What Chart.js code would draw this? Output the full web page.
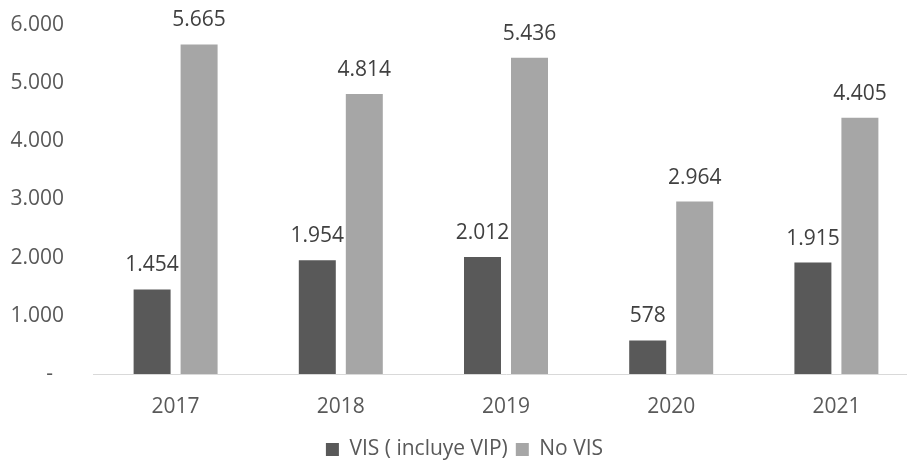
<!DOCTYPE html>
<html>
<head>
<meta charset="utf-8">
<script src="https://cdn.jsdelivr.net/npm/chart.js@4"></script>
<style>
  html, body { margin: 0; padding: 0; background: #fff; overflow: hidden; }
  #wrap { width: 907px; height: 470px; overflow: hidden; }
</style>
</head>
<body>
<!-- el área del gráfico original sobrepasa el borde derecho: lienzo algo más ancho y recortado -->
<div id="wrap"><canvas id="chart" width="920" height="470"></canvas></div>
<script>
const years = ['2017', '2018', '2019', '2020', '2021'];
const visValues = [1454, 1954, 2012, 578, 1915];
const noVisValues = [5665, 4814, 5436, 2964, 4405];
const seriesNames = ['VIS ( incluye VIP)', 'No VIS'];

// formato con punto de miles
function fmt(v) {
    return v.toString().replace(/\B(?=(\d{3})+(?!\d))/g, '.');
}

// etiquetas de valor encima de cada barra
const valueLabels = {
    id: 'valueLabels',
    afterDatasetsDraw(chart) {
        const ctx = chart.ctx;
        ctx.save();
        ctx.font = '21px "Open Sans"';
        ctx.fillStyle = '#404040';
        ctx.textAlign = 'center';
        ctx.textBaseline = 'alphabetic';
        chart.data.datasets.forEach((ds, i) => {
            chart.getDatasetMeta(i).data.forEach((bar, j) => {
                ctx.fillText(fmt(ds.data[j]), bar.x, bar.y - 18);
            });
        });
        ctx.restore();
    }
};

Chart.defaults.font.family = '"Open Sans"';
Chart.defaults.font.size = 21;
Chart.defaults.color = '#595959';

new Chart(document.getElementById('chart'), {
    type: 'bar',
    data: {
        labels: years,
        datasets: [{
            label: seriesNames[0],
            data: visValues,
            backgroundColor: '#595959',
            categoryPercentage: 0.569,
            barPercentage: 0.787
        }, {
            label: seriesNames[1],
            data: noVisValues,
            backgroundColor: '#a6a6a6',
            categoryPercentage: 0.569,
            barPercentage: 0.787
        }]
    },
    options: {
        responsive: false,
        animation: false,
        layout: {
            padding: { top: 0, right: 1, left: 10, bottom: 0 }
        },
        plugins: {
            legend: {
                position: 'bottom',
                labels: {
                    boxWidth: 13,
                    boxHeight: 13,
                    padding: 8,
                    color: '#595959'
                }
            },
            tooltip: { enabled: false }
        },
        scales: {
            x: {
                grid: { display: false, drawTicks: false },
                border: { display: true, color: '#d9d9d9', width: 1 },
                ticks: { padding: 20 },
                afterFit: (scale) => { scale.height = 57; }
            },
            y: {
                min: 0,
                max: 6000,
                grid: { display: false, drawTicks: false },
                border: { display: false },
                ticks: {
                    stepSize: 1000,
                    padding: 29,
                    callback: (v) => v === 0 ? '-  ' : fmt(v)
                },
                afterFit: (scale) => {
                    scale.width = 83;
                    scale.paddingTop = 25;
                    scale.paddingBottom = 12;
                }
            }
        }
    },
    plugins: [valueLabels]
});
</script>
</body>
</html>
